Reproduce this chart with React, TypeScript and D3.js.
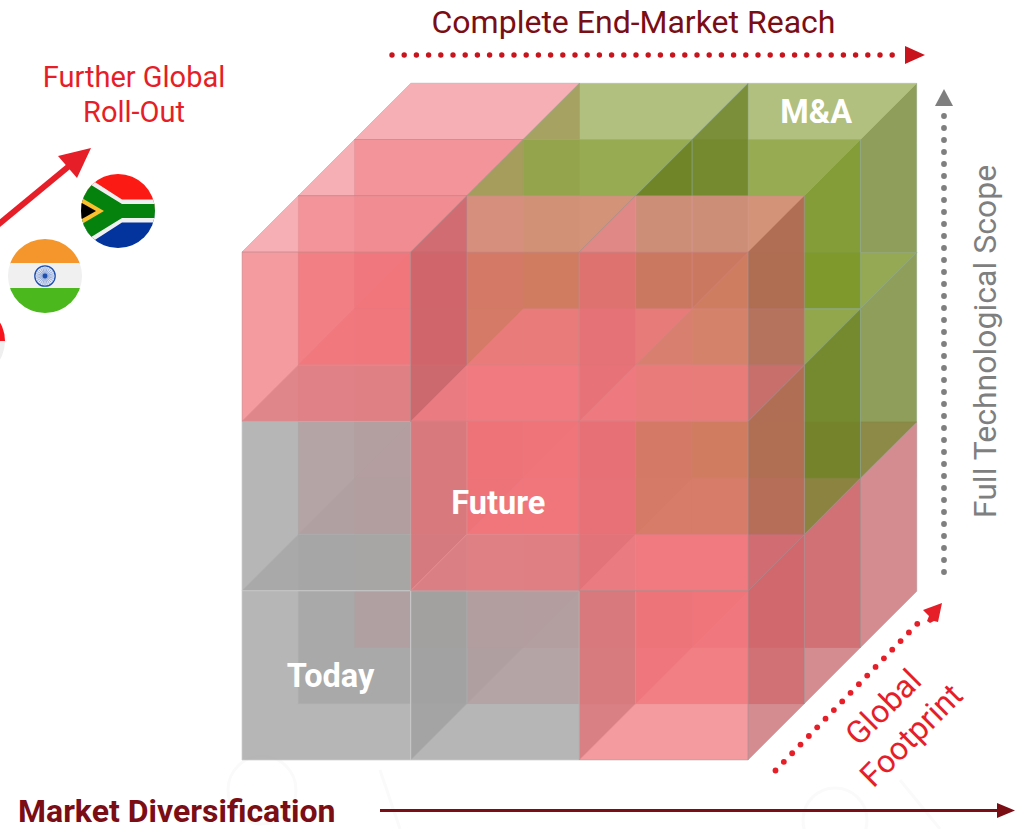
import React from "react";
import * as d3 from "d3";

type Kind = "grey" | "red" | "green";
const K: Record<string, Kind> = { g: "grey", r: "red", m: "green" };

// cell kinds: depth -> row (bottom to top) -> column
const depthFront = [["g", "g", "r"], ["g", "r", "r"], ["r", "r", "r"]];
const depthMiddle = [["g", "r", "r"], ["r", "r", "m"], ["r", "m", "m"]];
const depthBack = [["r", "r", "r"], ["r", "r", "m"], ["r", "m", "m"]];
const depths = [depthFront, depthMiddle, depthBack];

// painting order as [column, row, depth, faces, optional opacity]; faces: "rtf" right/top/front subset
const orderFirst = [[0, 0, 1, "rtf"], [2, 2, 1, "r", 0.5]];
const orderBack = [[0, 0, 2, "rtf"], [0, 1, 2, "rtf"], [0, 2, 2, "rtf"], [1, 0, 2, "rtf"], [1, 1, 2, "rtf"], [2, 0, 2, "rtf"], [2, 2, 2, "r"], [2, 1, 2, "rtf"], [2, 2, 2, "tf"], [2, 2, 1, "tf"], [1, 2, 2, "rtf"]];
const orderMiddle = [[0, 1, 1, "rtf"], [0, 2, 1, "rtf"], [1, 2, 1, "rtf"], [1, 0, 1, "rtf"], [1, 1, 1, "rtf"], [2, 0, 1, "rtf"], [2, 1, 1, "rtf"]];
const orderFront = [[0, 0, 0, "rtf"], [0, 1, 0, "rtf"], [1, 0, 0, "rtf"], [1, 1, 0, "rtf"], [1, 2, 0, "rtf"], [0, 2, 0, "rtf"], [2, 0, 0, "rtf"], [2, 1, 0, "rtf"], [2, 2, 0, "rtf"]];

const cubeLabels = [
  { text: "Today", c: 0.525, r: 0.43 },
  { text: "Future", c: 1.52, r: 1.455 },
];
const maLabel = { text: "M&A", c: 2.57, r: 3, d: 2.5 };

const titleTop = "Complete End-Market Reach";
const titleLeft = ["Further Global", "Roll-Out"];
const titleBottom = "Market Diversification";
const titleRight = "Full Technological Scope";
const titleDiag = ["Global", "Footprint"];

const fills: Record<Kind, { a: number; front: string; top: string; right: string; stroke: string }> = {
  red: { a: 0.72, front: "rgb(240,117,122)", top: "rgb(242,145,152)", right: "rgb(195,95,101)", stroke: "rgba(165,150,150,0.55)" },
  grey: { a: 0.82, front: "rgb(166,166,166)", top: "rgb(165,165,165)", right: "rgb(136,136,136)", stroke: "rgba(205,205,205,0.9)" },
  green: { a: 0.75, front: "rgb(118,146,28)", top: "rgb(151,171,83)", right: "rgb(106,126,35)", stroke: "rgba(150,175,180,0.4)" },
};

const W = 1024, H = 829;
const sx = d3.scaleLinear().domain([0, 3]).range([242, 748]);
const sy = d3.scaleLinear().domain([0, 3]).range([760, 252]);
const sd = d3.scaleLinear().domain([0, 3]).range([0, 168.8]);
const px = (c: number, d: number) => sx(c) + sd(d);
const py = (r: number, d: number) => sy(r) - sd(d);
const pts = (a: number[][]) => a.map(([c, r, d]) => `${px(c, d).toFixed(1)},${py(r, d).toFixed(1)}`).join(" ");

const font = "Roboto, sans-serif";
const DARK = "#7b0d14";
const RED = "#e61e28";
const GREY = "#7f7f7f";

function Cube({ c, r, d, show, alpha }: { c: number; r: number; d: number; show: string; alpha?: number }) {
  const f = fills[K[depths[d][r][c]]];
  const faces = [
    { id: "t", fill: f.top, p: [[c, r + 1, d], [c + 1, r + 1, d], [c + 1, r + 1, d + 1], [c, r + 1, d + 1]] },
    { id: "r", fill: f.right, p: [[c + 1, r, d], [c + 1, r + 1, d], [c + 1, r + 1, d + 1], [c + 1, r, d + 1]] },
    { id: "f", fill: f.front, p: [[c, r, d], [c + 1, r, d], [c + 1, r + 1, d], [c, r + 1, d]] },
  ].filter((x) => show.includes(x.id));
  return (
    <g>
      {faces.map((x) => (
        <polygon key={x.id} points={pts(x.p)} fill={x.fill} fillOpacity={alpha ?? f.a} stroke={f.stroke} strokeWidth={0.8} />
      ))}
    </g>
  );
}

function Flags() {
  return (
    <g>
      <defs>
        <clipPath id="clip-sa"><circle cx={118} cy={211} r={37} /></clipPath>
        <clipPath id="clip-in"><circle cx={45} cy={276} r={37} /></clipPath>
        <clipPath id="clip-id"><circle cx={-32} cy={341} r={37} /></clipPath>
      </defs>
      <g clipPath="url(#clip-sa)">
        <rect x={80} y={174} width={76} height={37} fill="#fb1a14" />
        <rect x={80} y={211} width={76} height={37} fill="#03339d" />
        <path d="M 70 166 L 122 199.5 L 156 199.5 L 156 222.5 L 122 222.5 L 70 256 Z" fill="#f0f0f0" />
        <path d="M 70 172 L 122 204 L 156 204 L 156 218 L 122 218 L 70 250 Z" fill="#05810d" />
        <path d="M 75 194 L 104 211 L 75 228 Z" fill="#fbc02d" />
        <path d="M 75 199 L 96 211 L 75 223 Z" fill="#000" />
      </g>
      <g clipPath="url(#clip-in)">
        <rect x={8} y={239} width={74} height={25} fill="#f4962b" />
        <rect x={8} y={263} width={74} height={26} fill="#f0f0f0" />
        <rect x={8} y={288} width={74} height={26} fill="#4bb81d" />
        <circle cx={45} cy={276} r={10.2} fill="#dfe6f4" stroke="#1e4fae" strokeWidth={1.3} />
        {d3.range(0, 180, 15).map((a) => (
          <line key={a} x1={45 - 9 * Math.cos((a * Math.PI) / 180)} y1={276 - 9 * Math.sin((a * Math.PI) / 180)} x2={45 + 9 * Math.cos((a * Math.PI) / 180)} y2={276 + 9 * Math.sin((a * Math.PI) / 180)} stroke="#6d8cc9" strokeWidth={0.6} />
        ))}
        <circle cx={45} cy={276} r={2.4} fill="#1e4fae" />
      </g>
      <g clipPath="url(#clip-id)">
        <rect x={-70} y={304} width={76} height={37} fill="#f8141c" />
        <rect x={-70} y={341} width={76} height={37} fill="#efefef" />
      </g>
    </g>
  );
}

function Dots({ x0, y0, x1, y1, step, r, fill }: { x0: number; y0: number; x1: number; y1: number; step: number; r: number; fill: string }) {
  const len = Math.hypot(x1 - x0, y1 - y0);
  return (
    <g fill={fill}>
      {d3.range(0, len + 0.01, step).map((t) => (
        <circle key={t} cx={x0 + ((x1 - x0) * t) / len} cy={y0 + ((y1 - y0) * t) / len} r={r} />
      ))}
    </g>
  );
}

export default function App() {
  const ordered: any[][] = [...orderFirst, ...orderBack, ...orderMiddle, ...orderFront];
  return (
    <svg width={W} height={H} viewBox={`0 0 ${W} ${H}`} style={{ position: "absolute", left: 0, top: 0 }} fontFamily={font}>
      <rect width={W} height={H} fill="#fff" />
      <g fill="none" stroke="#fafafa" strokeWidth={3}>
        <circle cx={835} cy={820} r={32} />
        <circle cx={262} cy={790} r={34} />
        <path d="M 900 780 L 940 829 M 380 770 L 400 829" />
      </g>

      {ordered.map(([c, r, d, show, alpha]) => (
        <Cube key={`${c}-${r}-${d}-${show}`} c={c} r={r} d={d} show={show} alpha={alpha} />
      ))}

      {cubeLabels.map((l) => (
        <text key={l.text} x={sx(l.c)} y={sy(l.r)} fill="#fff" fontWeight={700} fontSize={32.5} textAnchor="middle">{l.text}</text>
      ))}
      <text x={px(maLabel.c, maLabel.d)} y={py(maLabel.r, maLabel.d) + 12} fill="#fff" fontWeight={700} fontSize={32.5} textAnchor="middle">{maLabel.text}</text>

      <text x={633.5} y={33} fontSize={32} fill={DARK} textAnchor="middle">{titleTop}</text>
      <Dots x0={392} y0={55} x1={904} y1={55} step={12.2} r={2.7} fill="#c8141c" />
      <path d="M 905 46 L 925 55 L 905 64 Z" fill="#c8141c" />

      <text x={134} y={87} fontSize={29} fill={RED} textAnchor="middle">{titleLeft[0]}</text>
      <text x={134} y={122} fontSize={29} fill={RED} textAnchor="middle">{titleLeft[1]}</text>
      <line x1={-6} y1={228} x2={74} y2={162} stroke={RED} strokeWidth={6} />
      <path d="M 91 148 L 58 156 L 77 178 Z" fill={RED} />
      <Flags />

      <text transform="translate(996,341.5) rotate(-90)" fontSize={32} fill={GREY} textAnchor="middle">{titleRight}</text>
      <Dots x0={944} y0={572} x1={944} y1={114} step={12} r={2.9} fill={GREY} />
      <path d="M 944 89 L 953 106 L 935 106 Z" fill={GREY} />

      <Dots x0={775.5} y0={770.5} x1={919} y1={622} step={12} r={2.9} fill={RED} />
      <path d="M 942 603 L 923 610 L 929 616 L 927 621 L 930 623 L 934 621 L 938 622 Z" fill={RED} />
      <text transform="translate(891,715) rotate(-45)" fontSize={32} fill={RED} textAnchor="middle">{titleDiag[0]}</text>
      <text transform="translate(919,743) rotate(-45)" fontSize={32} fill={RED} textAnchor="middle">{titleDiag[1]}</text>

      <text x={18} y={822} fontSize={32} fontWeight={700} fill={DARK}>{titleBottom}</text>
      <line x1={380} y1={810.5} x2={1003} y2={810.5} stroke={DARK} strokeWidth={3} />
      <path d="M 997 803 L 1015 810.5 L 997 818 Z" fill={DARK} />
    </svg>
  );
}
